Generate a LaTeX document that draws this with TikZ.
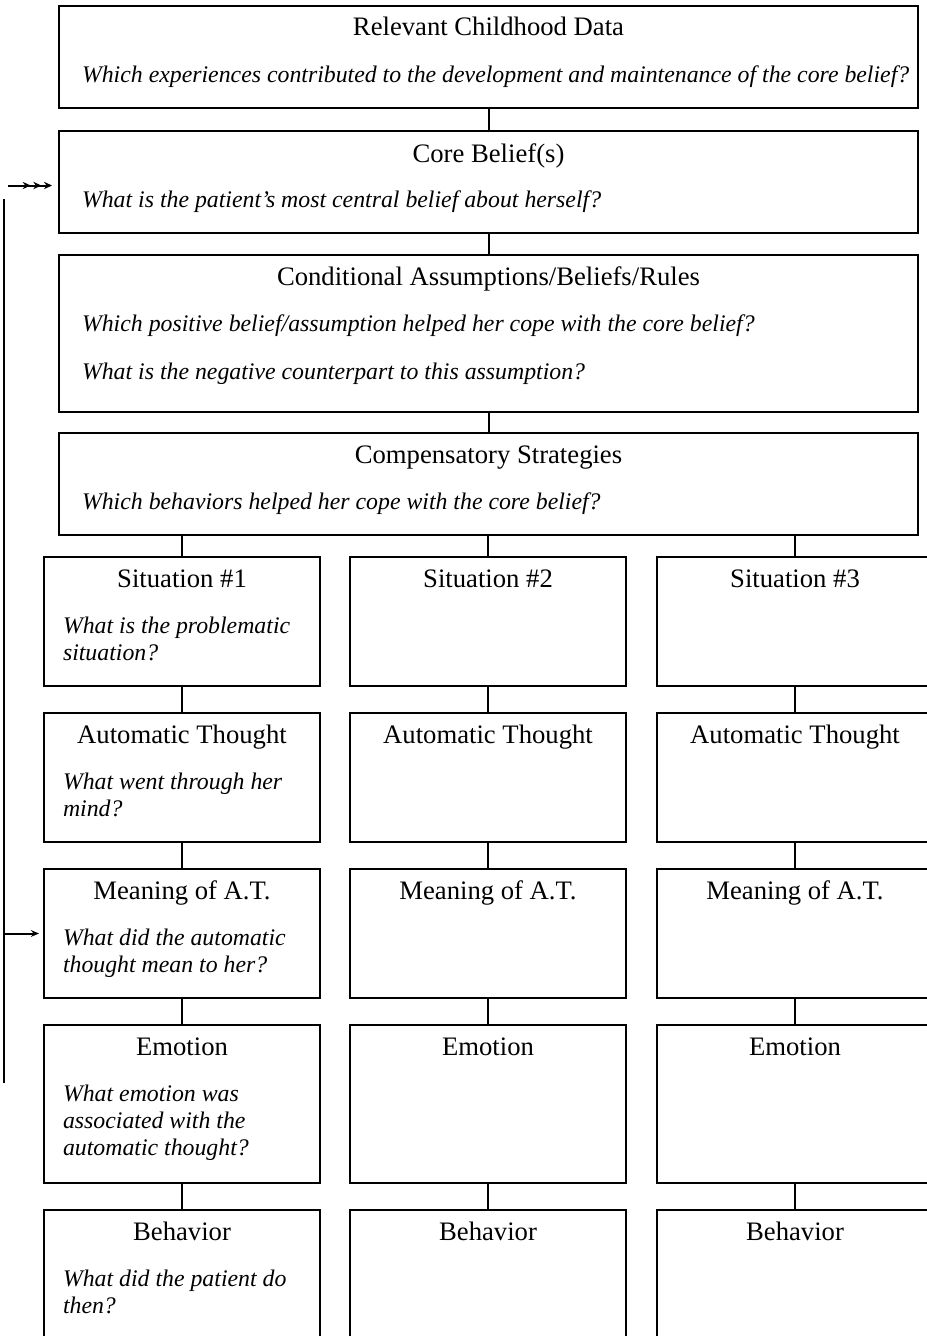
\documentclass[tikz,border=0pt]{standalone}
\usepackage{fontspec}
\setmainfont{Liberation Serif}
\usepackage{tikz}
\usetikzlibrary{arrows.meta, calc}
\tikzset{every picture/.style={line width=1.5pt}}
\tikzset{
	box/.style={draw, inner sep=0pt},
	bigbox/.style={box, minimum width=644.25pt, minimum height=76.5pt},
	colbox/.style={box, minimum width=207pt, minimum height=96.75pt},
	boxhead/.style={anchor=base, inner sep=0pt, font=\fontsize{20pt}{20.25pt}\selectfont},
	boxask/.style={anchor=base west, inner sep=0pt, text width=187.5pt, align=flush left, font=\fontsize{17.85pt}{20.25pt}\selectfont\itshape},
	onehead/.style={-{Stealth[length=6pt,width=5pt]}},
	threehead/.style={-{Stealth[length=6pt,width=5.5pt,sep=2pt]Stealth[length=6pt,width=5.5pt,sep=2pt]Stealth[length=6pt,width=5.5pt]}}
}

\begin{document}
\begin{tikzpicture}[x=0.75pt,y=0.75pt,yscale=-1,xscale=1]
					%set diagram left start at 0, width 927 and height 1336
					\useasboundingbox (0,0) rectangle (927,1336);
					\clip (0,0) rectangle (927,1336);
					%Shape: Rectangle
					\node [bigbox] (child) at (488.5,57) {};
					%Shape: Rectangle
					\node [bigbox] (core) at (488.5,182) {};
					%Shape: Rectangle
					\node [bigbox, minimum height=117.75pt] (rules) at (488.5,333.5) {};
					%Shape: Rectangle
					\node [bigbox] (comp) at (488.5,484) {};
					% Text Node
					\node [boxhead] (hchild) at ($(child.north)+(0,30)$) {Relevant Childhood Data};
					\node [boxask, text width=650pt] (qchild) at ($(child.north west)+(23,77)$) {Which experiences contributed to the development and maintenance of the core belief?};
					% Text Node
					\node [boxhead] (hcore) at ($(core.north)+(0,32)$) {Core Belief(s)};
					\node [boxask, text width=650pt] (qcore) at ($(core.north west)+(23,77)$) {What is the patient’s most central belief about herself?};
					% Text Node
					\node [boxhead] (hrules) at ($(rules.north)+(0,31)$) {Conditional Assumptions/Beliefs/Rules};
					\node [boxask, text width=650pt] (qrules) at ($(rules.north west)+(23,77)$) {Which positive belief/assumption helped her cope with the core belief?\\[15.75pt]What is the negative counterpart to this assumption?};
					% Text Node
					\node [boxhead] (hcomp) at ($(comp.north)+(0,31)$) {Compensatory Strategies};
					\node [boxask, text width=650pt] (qcomp) at ($(comp.north west)+(23,77)$) {Which behaviors helped her cope with the core belief?};
					%Straight Lines
					\draw (child) -- (core);
					\draw (core) -- (rules);
					\draw (rules) -- (comp);
					%Columns of boxes
					\foreach \c/\x in {1/182,2/488,3/795} {
						\node [colbox] (sit\c) at (\x,621.5) {};
						\node [colbox] (auto\c) at (\x,777.5) {};
						\node [colbox] (mean\c) at (\x,933.5) {};
						\node [colbox, minimum height=118.5pt] (emo\c) at (\x,1104) {};
						\node [colbox, minimum height=118.5pt] (beh\c) at (\x,1289) {};
						\node [boxhead] (hsit\c) at ($(sit\c.north)+(0,31)$) {Situation \#\c};
						\node [boxhead] (hauto\c) at ($(auto\c.north)+(0,31)$) {Automatic Thought};
						\node [boxhead] (hmean\c) at ($(mean\c.north)+(0,31)$) {Meaning of A.T.};
						\node [boxhead] (hemo\c) at ($(emo\c.north)+(0,31)$) {Emotion};
						\node [boxhead] (hbeh\c) at ($(beh\c.north)+(0,31)$) {Behavior};
						\draw (comp.south -| sit\c.north) -- (sit\c.north);
						\draw (sit\c) -- (auto\c);
						\draw (auto\c) -- (mean\c);
						\draw (mean\c) -- (emo\c);
						\draw (emo\c) -- (beh\c);
					}
					% Text Node
					\node [boxask] (qsit) at ($(sit1.north west)+(19,77)$) {What is the problematic\\situation?};
					% Text Node
					\node [boxask] (qauto) at ($(auto1.north west)+(19,77)$) {What went through her\\mind?};
					% Text Node
					\node [boxask] (qmean) at ($(mean1.north west)+(19,77)$) {What did the automatic\\thought mean to her?};
					% Text Node
					\node [boxask] (qemo) at ($(emo1.north west)+(19,77)$) {What emotion was\\associated with the\\automatic thought?};
					% Text Node
					\node [boxask] (qbeh) at ($(beh1.north west)+(19,77)$) {What did the patient do\\then?};
					%Feedback lines
					\coordinate (fbtop) at (4,199);
					\coordinate (fbbot) at (4,1083);
					\coordinate (fbin) at (8,185.5);
					\draw (fbtop) -- (fbbot);
					\draw [threehead, shorten >=4.5pt] (fbin) -- (fbin -| core.west);
					\draw [onehead, shorten >=3pt] (fbtop |- mean1.west) -- (mean1.west);
				\end{tikzpicture}
\end{document}
